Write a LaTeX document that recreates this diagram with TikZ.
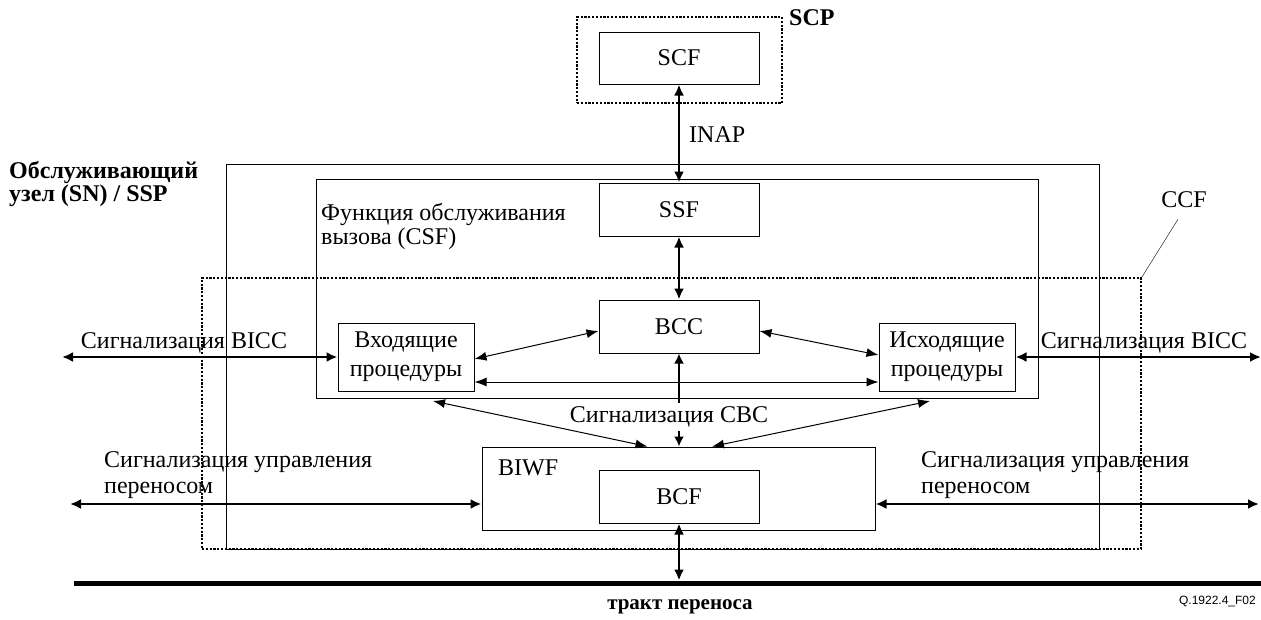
\documentclass[tikz,border=0pt]{standalone}
\usepackage{fontspec}
\setmainfont{Liberation Serif}
\newfontfamily\qfont{Liberation Sans}
\usetikzlibrary{arrows.meta,calc}
\begin{document}
\begin{tikzpicture}[x=1pt,y=-1pt,
  font=\fontsize{24}{28}\selectfont,
  box/.style={draw,line width=1pt,inner sep=0pt},
  dotbox/.style={draw,line width=1.6pt,dash pattern=on 2.2pt off 1.6pt,inner sep=0pt},
  thickarrow/.style={line width=2.2pt,{Latex[length=11pt,width=10pt]}-{Latex[length=11pt,width=10pt]}},
  thinarrow/.style={line width=1pt,{Latex[length=12pt,width=9pt]}-{Latex[length=12pt,width=9pt]}},
  onearrow/.style={line width=2.2pt,-{Latex[length=10pt,width=10pt]}},
  lbl/.style={inner sep=0pt},
  boldlbl/.style={inner sep=0pt,font=\fontsize{24}{24}\selectfont\bfseries}
]
\useasboundingbox (0,0) rectangle (1261,619);
% containers
\node[dotbox,minimum width=205pt,minimum height=86pt] (SCPbox) at (679.5,60) {};
\node[dotbox,minimum width=939pt,minimum height=271pt] (CCFbox) at (671.5,413.5) {};
\node[box,minimum width=873pt,minimum height=385pt] (SN) at (662.5,356.5) {};
\node[box,minimum width=722pt,minimum height=219pt] (CSF) at (677,288.5) {};
% functional boxes
\node[box,minimum width=160pt,minimum height=52pt] (SCF) at (679,58) {SCF};
\node[box,fill=white,minimum width=160pt,minimum height=53pt] (SSF) at (679,209.5) {SSF};
\node[box,fill=white,minimum width=160pt,minimum height=53pt] (BCC) at (679,326.5) {BCC};
\node[box,fill=white,minimum width=136pt,minimum height=68pt,align=center,font=\fontsize{24}{29}\selectfont] (In) at (406,357) {Входящие\\процедуры};
\node[box,fill=white,minimum width=136pt,minimum height=68pt,align=center,font=\fontsize{24}{29}\selectfont] (Out) at (947,357) {Исходящие\\процедуры};
\node[box,fill=white,minimum width=393pt,minimum height=83pt] (BIWF) at (678.5,488.5) {};
\node[box,minimum width=160pt,minimum height=53pt] (BCF) at (679,496.5) {BCF};
% bearer path
\coordinate (bl) at (74,583);
\coordinate (br) at (1261,583);
\draw[line width=5pt] (bl) -- (br);
% labels
\node[boldlbl,anchor=west] (SCPlbl) at (789,18) {SCP};
\node[lbl,anchor=west] (INAP) at (689,135) {INAP};
\node[boldlbl,anchor=west,align=left,font=\fontsize{24}{23}\selectfont\bfseries] (SNlbl) at (9,184) {Обслуживающий\\узел (SN) / SSP};
\node[lbl,anchor=west,align=left,font=\fontsize{24}{24}\selectfont] (CSFlbl) at (321,226) {Функция обслуживания\\вызова (CSF)};
\node[lbl] (CCFlbl) at (1184,200) {CCF};
\node[lbl,anchor=west] (BIWFlbl) at (498,468) {BIWF};
\node[lbl,anchor=base] (bicclL) at (184,348) {Сигнализация BICC};
\node[lbl,anchor=base] (bicclR) at (1144,348) {Сигнализация BICC};
\node[lbl,anchor=west,align=left,font=\fontsize{24}{26}\selectfont] (bcsL) at (104,475) {Сигнализация управления\\переносом};
\node[lbl,anchor=west,align=left,font=\fontsize{24}{26}\selectfont] (bcsR) at (921,475) {Сигнализация управления\\переносом};
\node[inner xsep=7pt,inner ysep=4pt] (cbc) at (669,417) {Сигнализация CBC};
\node[boldlbl,font=\fontsize{21}{24}\selectfont\bfseries] (bearer) at (680,607) {тракт переноса};
\node[lbl,anchor=east,font=\qfont\fontsize{12}{14}\selectfont] (fig) at (1256,601) {Q.1922.4\_F02};
% free ends
\coordinate (biccL) at (62,357);
\coordinate (biccR) at (1261,357);
\coordinate (bcL) at (70,504);
\coordinate (bcR) at (1259,504);
\coordinate (dl) at (433,401);
\coordinate (dr) at (930,401);
% connectors
\draw (CCFbox.north east) -- ([xshift=-6pt,yshift=-11pt]CCFlbl.south);
\draw[thickarrow] (SCF.south) -- (SSF.north);
\draw[thickarrow] (SSF.south) -- (BCC.north);
\draw[thickarrow] (biccL) -- (In.west);
\draw[thickarrow] (Out.east) -- (biccR);
\draw[thinarrow] ([yshift=-2pt]In.east) -- ([yshift=-4.5pt]BCC.west);
\draw[thinarrow] ([yshift=-4.5pt]BCC.east) -- ([yshift=2pt]Out.west);
\draw[thinarrow] ([yshift=-25pt]In.east) -- ([yshift=-25pt]Out.west);
\draw[onearrow] (cbc.north -| BCC.south) -- (BCC.south);
\draw[onearrow] (cbc.south -| BCC.south) -- (BIWF.north -| BCC.south);
\draw[thinarrow] (dl) -- ([xshift=-31pt]BIWF.north);
\draw[thinarrow] (dr) -- ([xshift=33.5pt]BIWF.north);
\draw[thickarrow] (bcL) -- ([yshift=-15.5pt]BIWF.west);
\draw[thickarrow] ([yshift=-15.5pt]BIWF.east) -- (bcR);
\draw[thickarrow] (BCF.south) -- ($(BCF.south |- bl)+(0,-2.5)$);
\end{tikzpicture}
\end{document}
